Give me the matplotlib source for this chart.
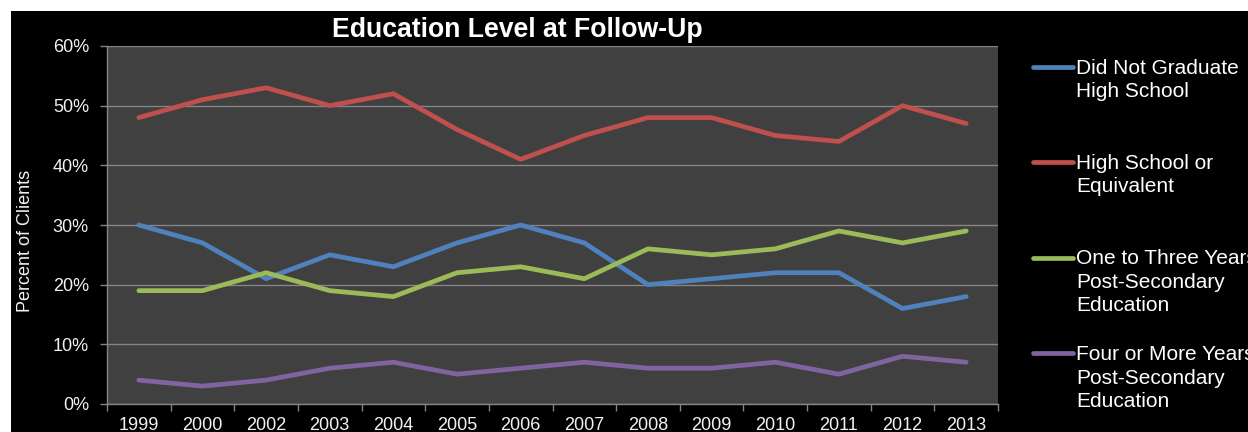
import numpy as np
import matplotlib
matplotlib.use("Agg")
import matplotlib.pyplot as plt
from matplotlib.lines import Line2D
from matplotlib.patches import Rectangle
from matplotlib.ticker import FuncFormatter

years = ["1999", "2000", "2002", "2003", "2004", "2005", "2006", "2007",
         "2008", "2009", "2010", "2011", "2012", "2013"]
did_not_graduate = [30, 27, 21, 25, 23, 27, 30, 27, 20, 21, 22, 22, 16, 18]
high_school = [48, 51, 53, 50, 52, 46, 41, 45, 48, 48, 45, 44, 50, 47]
one_to_three = [19, 19, 22, 19, 18, 22, 23, 21, 26, 25, 26, 29, 27, 29]
four_or_more = [4, 3, 4, 6, 7, 5, 6, 7, 6, 6, 7, 5, 8, 7]

series_labels = ["Did Not Graduate\nHigh School",
                 "High School or\nEquivalent",
                 "One to Three Years\nPost-Secondary\nEducation",
                 "Four or More Years\nPost-Secondary\nEducation"]
series_values = [did_not_graduate, high_school, one_to_three, four_or_more]
colors = ["#4F81BD", "#C0504D", "#9BBB59", "#8064A2"]

plt.rcParams['font.family'] = ['Liberation Sans', 'DejaVu Sans']

W, H = 1248, 432
fig = plt.figure(figsize=(W / 100, H / 100), dpi=100, facecolor="white")
fig.add_artist(Rectangle((11 / W, 0), 1 - 11 / W, 1 - 11 / H,
                         transform=fig.transFigure, facecolor="black",
                         edgecolor="none", zorder=0))

left, right, top, bottom = 107, 998, 46, 404
ax = fig.add_axes([left / W, 1 - bottom / H, (right - left) / W, (bottom - top) / H])
ax.set_facecolor("#404040")

x = np.arange(len(years))
for vals, c in zip(series_values, colors):
    ax.plot(x, vals, color=c, lw=3.4, solid_capstyle="round", solid_joinstyle="round", zorder=3)

ax.set_xlim(-0.5, len(years) - 0.5)
ax.set_ylim(0, 60)
ax.set_yticks(np.arange(0, 61, 10))
ax.yaxis.set_major_formatter(FuncFormatter(lambda v, p: f"{int(v)}%"))
ax.grid(axis="y", color="#858585", lw=1.0, zorder=1)
ax.set_axisbelow(True)

ax.set_xticks(np.arange(-0.5, len(years), 1))
ax.set_xticklabels([])
ax.set_xticks(x, minor=True)
ax.set_xticklabels(years, minor=True)
ax.tick_params(axis="x", which="major", length=5, color="#858585", width=1, direction="out")
ax.tick_params(axis="x", which="minor", length=0, pad=9, labelsize=13, labelcolor="#f2f2f2")
ax.tick_params(axis="y", length=5, color="#858585", width=1, pad=8, labelsize=13, labelcolor="#f2f2f2")

for s in ["top", "right"]:
    ax.spines[s].set_visible(False)
for s in ["left", "bottom"]:
    ax.spines[s].set_color("#858585")
    ax.spines[s].set_linewidth(1)

ax.set_ylabel("Percent of Clients", fontsize=13, color="#f2f2f2")
ax.yaxis.set_label_coords((34 - left) / (right - left), 1 - (241 - top) / (bottom - top))

fig.text(517 / W, 1 - 30 / H, "Education Level at Follow-Up", fontsize=19.2,
         fontweight="bold", color="white", ha="center", va="center")

# legend (manual, evenly spaced entries as in the reference)
entry_y = [66.7, 162.3, 257.7, 353.3]
for lab, c, ly in zip(series_labels, colors, entry_y):
    fig.add_artist(Line2D([1033 / W, 1073 / W], [1 - ly / H, 1 - ly / H],
                          transform=fig.transFigure, color=c, lw=3.4,
                          solid_capstyle="round"))
    for i, line in enumerate(lab.split("\n")):
        by = ly + 6.8 + i * 23.4
        fig.text(1076 / W, 1 - by / H, line, fontsize=15, color="white",
                 ha="left", va="baseline")

fig.savefig("out.png", dpi=100, facecolor=fig.get_facecolor())
